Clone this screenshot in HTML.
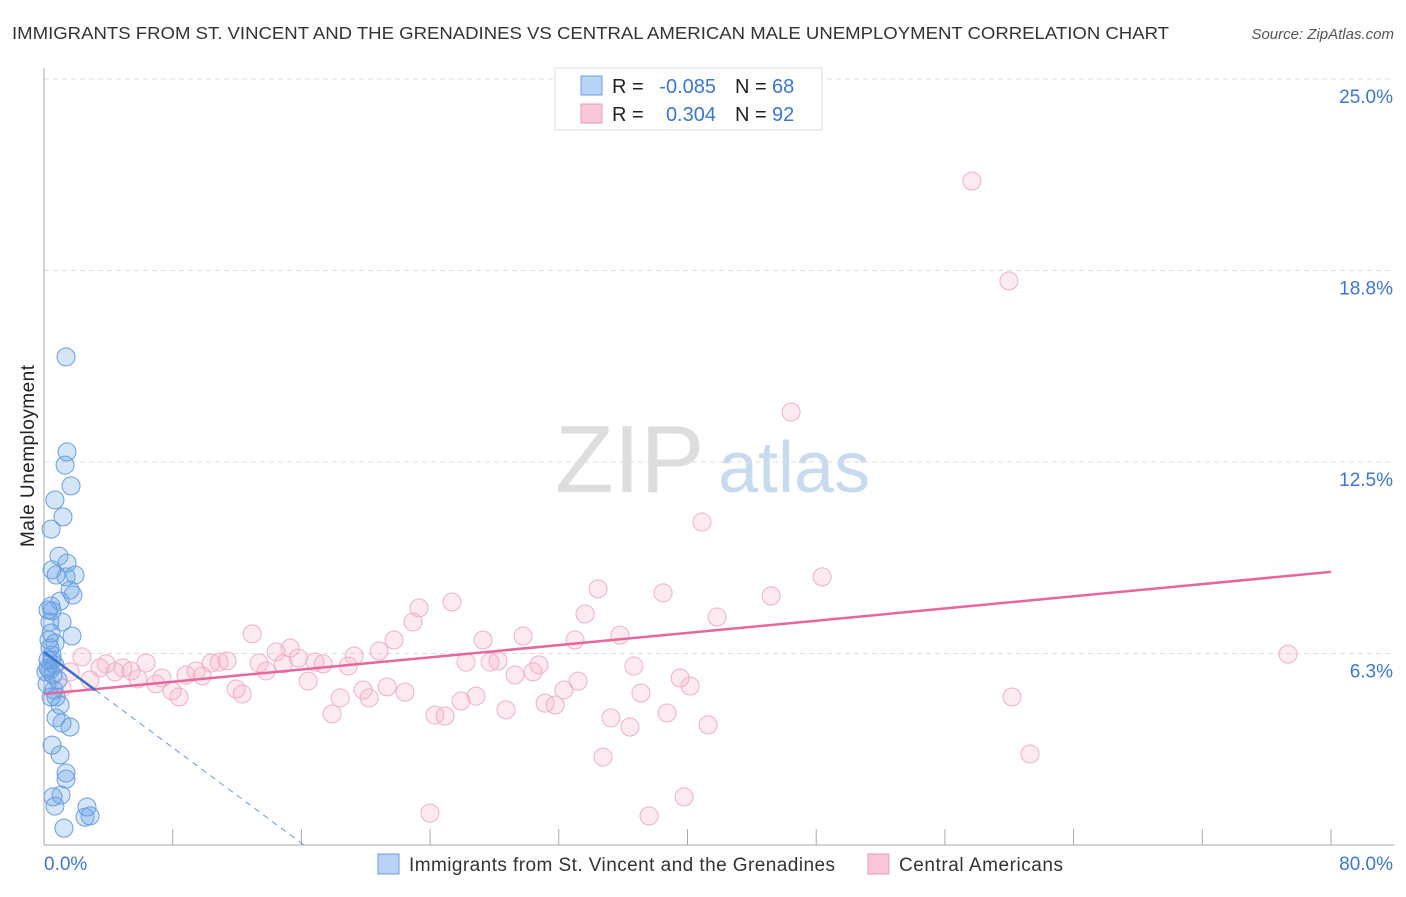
<!DOCTYPE html>
<html><head><meta charset="utf-8"><style>
body{margin:0;background:#fff;font-family:"Liberation Sans",sans-serif}
svg text{font-family:"Liberation Sans",sans-serif}
</style></head><body>
<svg id="chart" width="1406" height="892">
<text x="12" y="39" font-size="17.5" fill="#333" textLength="1157" lengthAdjust="spacingAndGlyphs">IMMIGRANTS FROM ST. VINCENT AND THE GRENADINES VS CENTRAL AMERICAN MALE UNEMPLOYMENT CORRELATION CHART</text>
<text x="1394" y="39" font-size="15" fill="#555" font-style="italic" text-anchor="end">Source: ZipAtlas.com</text>
<text x="555" y="492" font-size="96" fill="#ddd" font-family="Liberation Serif">ZIP</text>
<text x="718" y="492" font-size="72" fill="#c8daf0">atlas</text>
<text transform="translate(34,456) rotate(-90)" font-size="19" fill="#222" text-anchor="middle" textLength="182">Male Unemployment</text>
<g id="grid"></g><g id="axes"></g><g id="pts"></g><g id="lines"></g>
<g>
<rect x="555" y="68" width="267" height="62" fill="#fff" stroke="#ddd"/>
<rect x="581" y="76" width="21" height="19" fill="#b8d3f4" stroke="#6a9fe0"/>
<rect x="581" y="104" width="21" height="19" fill="#f9c8d6" stroke="#eb9ab4"/>
<text x="612" y="93" font-size="20" fill="#222">R =</text>
<text x="716" y="93" font-size="20" fill="#3a78d4" text-anchor="end">-0.085</text>
<text x="735" y="93" font-size="20" fill="#222">N =</text>
<text x="772" y="93" font-size="20" fill="#3a78d4">68</text>
<text x="612" y="121" font-size="20" fill="#222">R =</text>
<text x="716" y="121" font-size="20" fill="#3a78d4" text-anchor="end">0.304</text>
<text x="735" y="121" font-size="20" fill="#222">N =</text>
<text x="772" y="121" font-size="20" fill="#3a78d4">92</text>
</g>
<g>
<rect x="378" y="854" width="21" height="20" fill="#b8d3f4" stroke="#6a9fe0"/>
<text x="409" y="871" font-size="19" fill="#333" textLength="426">Immigrants from St. Vincent and the Grenadines</text>
<rect x="868" y="854" width="21" height="20" fill="#f9c8d6" stroke="#eb9ab4"/>
<text x="899" y="871" font-size="19" fill="#333" textLength="164">Central Americans</text>
</g>
</svg>
<script>
const yTicks=[6.3,12.5,18.8,25.0];
const yTickVals=[6.25,12.5,18.75,25];
const xLabels=["0.0%","80.0%"];
const blueX=[1.37,1.43,1.31,1.68,0.68,1.18,0.44,0.93,1.43,0.50,0.75,1.37,1.93,1.62,1.80,1.00,0.44,0.50,1.12,0.37,0.44,1.74,0.68,0.37,0.50,0.68,0.37,0.56,0.87,0.62,0.44,1.00,0.75,1.12,1.62,0.50,1.00,1.37,1.37,0.56,1.06,0.68,2.67,2.55,2.86,1.24,0.25,0.25,0.12,0.31,0.19,0.75,0.25,0.50];
const blueY=[15.93,12.83,12.40,11.72,11.26,10.71,10.31,9.43,9.20,8.98,8.81,8.75,8.81,8.32,8.16,7.96,7.80,7.64,7.28,7.28,6.92,6.82,6.59,6.43,6.04,5.88,5.71,5.55,5.39,5.06,4.83,4.57,4.15,3.98,3.85,3.26,2.94,2.35,2.15,1.57,1.63,1.27,1.24,0.91,0.95,0.55,6.04,5.78,5.65,6.69,5.26,4.83,7.67,6.20];
const pinkX=[2.36,1.62,1.12,2.86,3.48,3.86,4.42,4.91,5.41,5.84,6.34,6.96,7.33,7.96,8.39,8.83,9.45,9.83,10.39,10.89,11.38,11.94,12.32,12.94,13.37,13.81,14.43,14.87,15.30,15.80,16.42,16.85,17.35,17.91,18.41,18.91,19.28,19.84,20.21,20.83,21.33,21.76,22.44,22.94,23.31,23.99,24.30,24.93,25.36,25.92,26.23,26.85,27.29,27.73,28.22,28.72,29.28,29.78,30.40,30.77,31.15,31.77,32.32,33.01,33.20,33.63,34.44,34.75,35.24,35.80,36.42,36.67,37.11,37.61,38.48,38.73,39.54,39.79,40.16,40.90,41.28,41.84,45.20,46.44,48.37,57.68,59.98,60.17,61.29,77.33];
const pinkY=[6.14,5.65,5.12,5.39,5.78,5.91,5.65,5.78,5.68,5.42,5.94,5.26,5.45,5.03,4.83,5.55,5.68,5.52,5.94,5.97,6.01,5.09,4.93,6.89,5.94,5.68,6.30,5.91,6.43,6.10,5.35,5.97,5.91,4.28,4.80,5.84,6.17,5.06,4.80,6.33,5.16,6.69,4.99,7.28,7.74,1.04,4.24,4.21,7.93,4.70,5.97,4.86,6.69,5.97,6.01,4.41,5.55,6.82,5.65,5.88,4.63,4.57,5.06,6.69,5.35,7.54,8.36,2.87,4.15,6.85,3.85,5.84,4.96,0.95,8.23,4.31,5.45,1.57,5.19,10.54,3.92,7.44,8.13,14.13,8.75,21.67,18.41,4.83,2.97,6.23];
const pinkTrend=[4.93,0.0498];
const blueTrend=[6.3,-0.39];
const NS="http://www.w3.org/2000/svg";
const X=v=>44+v/80*1287, Y=v=>845-v/25*766;
function mk(p,t,a){const e=document.createElementNS(NS,t);for(const k in a)e.setAttribute(k,a[k]);p.appendChild(e);return e;}
const grid=document.getElementById('grid'),axes=document.getElementById('axes'),pts=document.getElementById('pts'),lines=document.getElementById('lines');
yTickVals.forEach((v,i)=>{
 const l=mk(grid,'line',{x1:44,x2:1394,y1:Y(v),y2:Y(v),stroke:'#ddd','stroke-dasharray':'5,4'});
 
 
 const t=mk(grid,'text',{x:1393,y:Y(v)+24,'font-size':19,fill:'#3a78d4','text-anchor':'end'});
 t.textContent=yTicks[i].toFixed(1)+'%';
 
 
});
const ax=mk(axes,'line',{x1:44,x2:44,y1:68,y2:845,stroke:'#aaa'});


const bx=mk(axes,'line',{x1:44,x2:1394,y1:845,y2:845,stroke:'#aaa'});


for(let i=1;i<=10;i++){const tk=mk(axes,'line',{x1:X(i*8),x2:X(i*8),y1:829,y2:845,stroke:'#aaa'});
 
 }
[[44,'start',xLabels[0]],[1393,'end',xLabels[1]]].forEach(a=>{const t=mk(axes,'text',{x:a[0],y:870,'font-size':19,fill:'#3a78d4','text-anchor':a[1]});t.textContent=a[2];
 
 });
pinkX.forEach((v,i)=>{const c=mk(pts,'circle',{cx:X(v),cy:Y(pinkY[i]),r:9,fill:'rgba(245,170,195,0.25)',stroke:'#efb0c4','stroke-width':1});
 
 });
blueX.forEach((v,i)=>{const c=mk(pts,'circle',{cx:X(v),cy:Y(blueY[i]),r:9,fill:'rgba(100,160,230,0.28)',stroke:'#6a9ee0','stroke-width':1});
 
 });
const pl=mk(lines,'line',{x1:X(0),y1:Y(pinkTrend[0]),x2:X(80),y2:Y(pinkTrend[0]+80*pinkTrend[1]),stroke:'#e8679a','stroke-width':2.5});


const x0=-blueTrend[0]/blueTrend[1];
const bl=mk(lines,'line',{x1:X(0),y1:Y(blueTrend[0]),x2:X(3.2),y2:Y(blueTrend[0]+3.2*blueTrend[1]),stroke:'#3a6fd0','stroke-width':2.5});


const bd=mk(lines,'line',{x1:X(3.2),y1:Y(blueTrend[0]+3.2*blueTrend[1]),x2:X(x0),y2:Y(0),stroke:'#6a9ad8','stroke-width':1,'stroke-dasharray':'6,5'});


</script>
</body></html>
